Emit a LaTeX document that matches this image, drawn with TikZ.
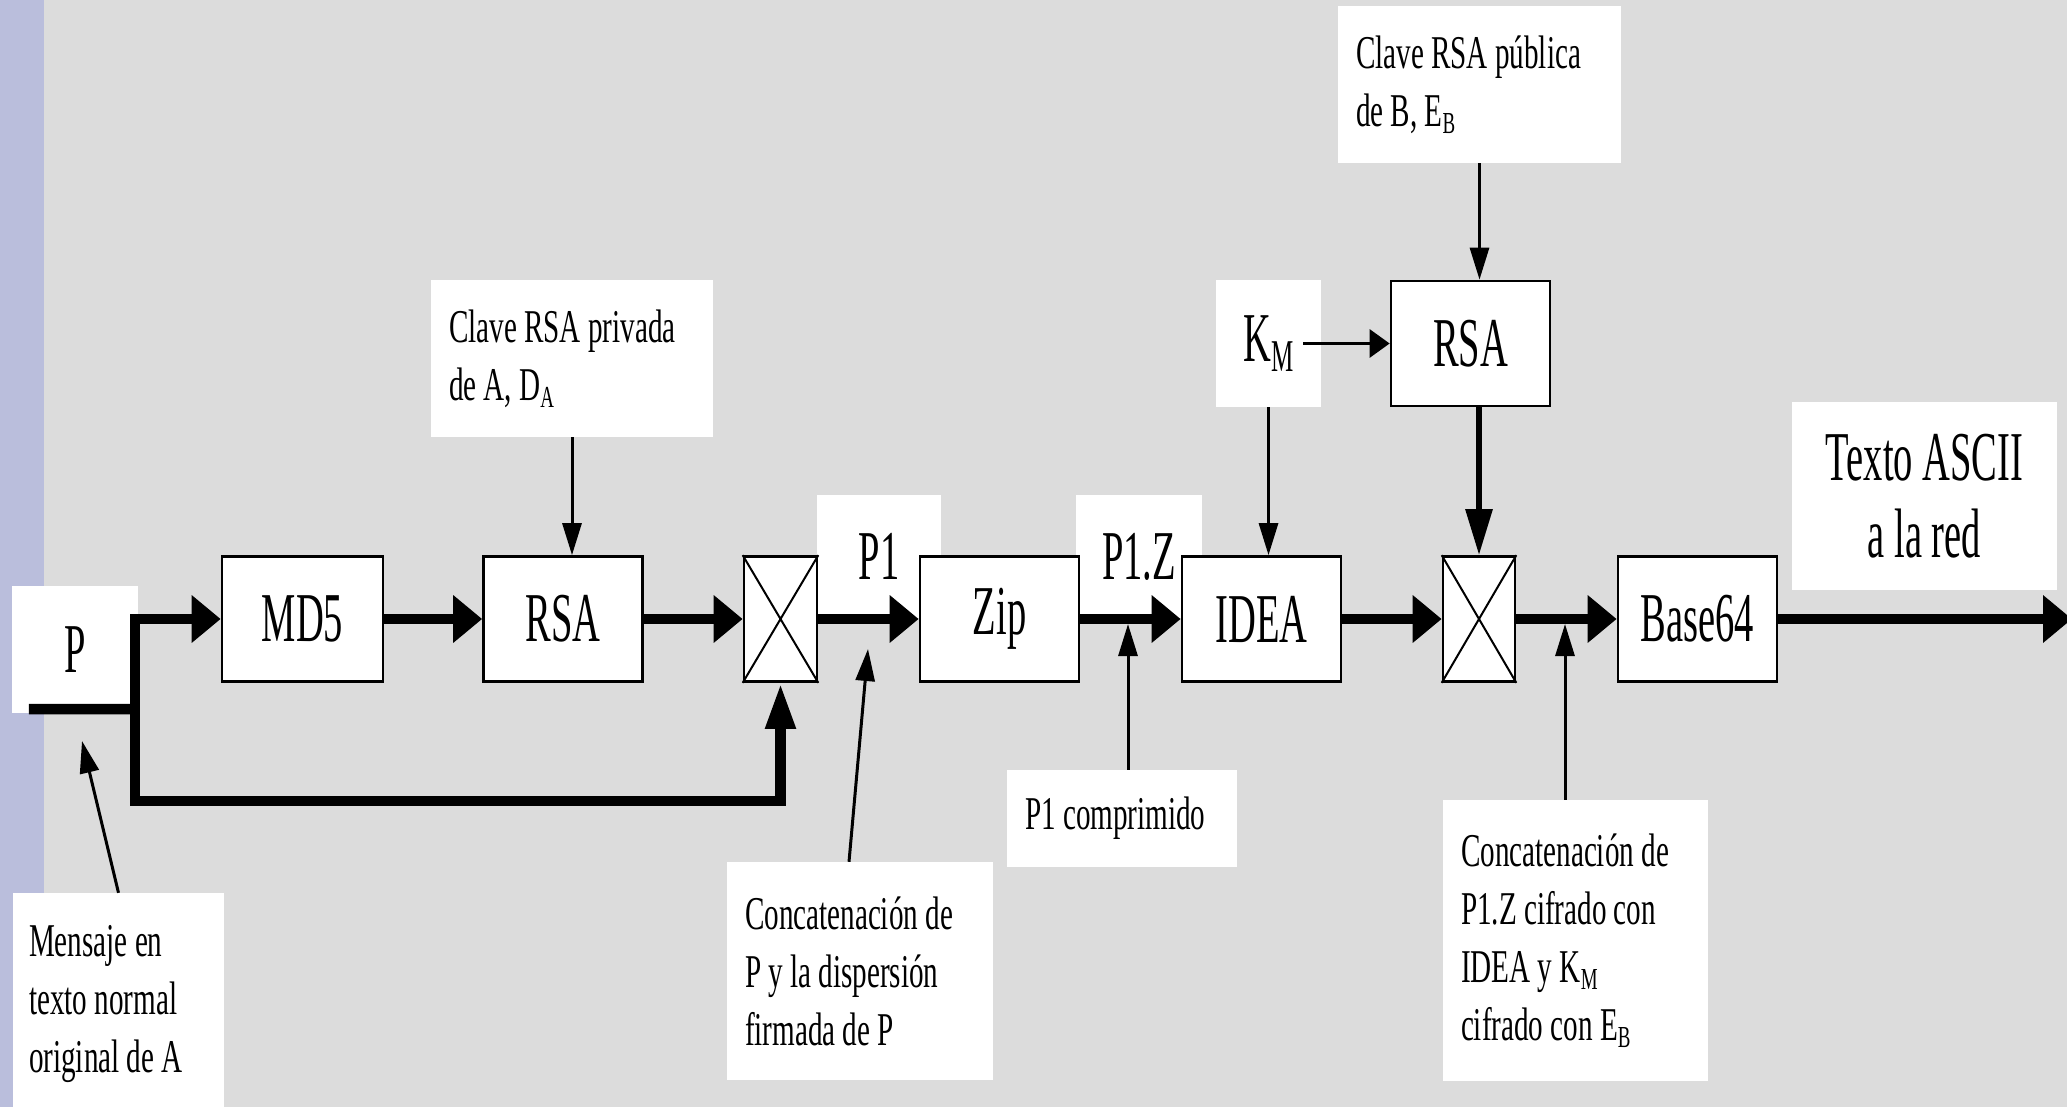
\documentclass[tikz,border=0pt]{standalone}
\usepackage{graphicx,xcolor}
\usepackage{fontspec}
\setmainfont{Liberation Serif}[FakeStretch=0.62]
\newfontfamily\boxserif{Liberation Serif}[FakeStretch=0.55]
\usepackage{tikz}
\usetikzlibrary{arrows.meta}
\usetikzlibrary{positioning}
\usetikzlibrary{calc}
\definecolor{slidegray}{RGB}{220,220,220}
\definecolor{slideblue}{RGB}{186,190,220}
\newcommand{\lowidx}[1]{\raisebox{-0.15em}{\scalebox{0.65}{#1}}}
\newcommand{\bigfont}{\boxserif\fontsize{70}{77}\selectfont}
\newcommand{\smallfont}{\fontsize{47}{58}\selectfont}
\tikzset{
    block/.style={draw=black, fill=white, line width=2.7pt, minimum width=159pt,
        minimum height=125pt, inner sep=0pt, font=\bigfont},
    mixer/.style={draw=black, fill=white, line width=2.7pt, minimum width=73pt,
        minimum height=125pt, inner sep=0pt},
    tag/.style={fill=white, inner sep=0pt, align=center, font=\bigfont},
    note/.style={fill=white, inner xsep=18pt, inner ysep=0pt, align=left, font=\smallfont,
        execute at begin node={\spaceskip=0pt\xspaceskip=0pt}},
    flow/.style={line width=10.5pt, -{Triangle[length=29pt,width=46pt]}},
    flowup/.style={line width=10.5pt, -{Triangle[length=46pt,width=28pt]}},
    flowline/.style={line width=10.5pt},
    keyflow/.style={line width=6pt, -{Triangle[length=46pt,width=26pt]}},
    pointer/.style={line width=3pt, -{Triangle[length=32pt,width=19pt]}},
}
\tikzstyle{crossline} = [draw, line width=2pt]

\begin{document}
\begin{tikzpicture}[x=1pt, y=-1pt, keyin/.style={line width=3pt,-{Triangle[length=20pt,width=28pt]}}]
	\useasboundingbox (0,0) rectangle (2067,1107);
	\fill[slidegray] (0,0) rectangle (2067,1107);
	\fill[slideblue] (0,0) rectangle (44,1107);
	% white labels behind the blocks
	\node[tag, minimum width=124pt, minimum height=123pt] (P1) at (879,556.5) {P1};
	\node[tag, minimum width=126pt, minimum height=123pt] (P1Z) at (1139,556.5) {P1.Z};
	\node[tag, minimum width=265pt, minimum height=188pt] (texto) at (1924.5,496) {Texto ASCII\\a la red};
	\node[tag, minimum width=126pt, minimum height=127pt] (P) at (75,649.5) {P};
	\node[tag, minimum width=105pt, minimum height=127pt] (KM) at (1268.5,343.5) {K\lowidx{M}};
	% blocks
	\node[block, minimum width=161pt] (MD5) at (302.5,619) {MD5};
	\node[block] (RSA1) at (563,619) {RSA};
	\node[mixer] (cat1) at (780.5,619) {};
	\node[block] (Zip) at (999.5,619) {Zip};
	\node[block] (IDEA) at (1261.5,619) {IDEA};
	\node[mixer, minimum width=72pt] (cat2) at (1479,619) {};
	\node[block] (Base64) at (1697.5,619) {Base64};
	\node[block] (RSA2) at (1470.5,343.5) {RSA};
	\path[crossline] (cat1.north west)--(cat1.south east) (cat1.north east)--(cat1.south west);
	\path[crossline] (cat2.north west)--(cat2.south east) (cat2.north east)--(cat2.south west);
	% notes
	\node[note, text width=246pt, minimum height=157pt] (priv) at (572,358.5) {Clave RSA privada\\de A, D\lowidx{A}};
	\node[note, text width=247pt, minimum height=157pt] (pub) at (1479.5,84.5) {Clave RSA pública\\de B, E\lowidx{B}};
	\node[note, text width=194pt, minimum height=97pt] (comp) at (1122,818.5) {P1 comprimido};
	\node[note, inner xsep=16pt, text width=179pt, minimum height=222pt] (msg) at (118.5,1004) {Mensaje en\\texto normal\\original de A};
	\node[note, text width=230pt, minimum height=218pt] (catnote1) at (860,971) {Concatenación de\\P y la dispersión\\firmada de P};
	\node[note, text width=229pt, minimum height=281pt] (catnote2) at (1575.5,940.5) {Concatenación de\\P1.Z cifrado con\\IDEA y K\lowidx{M}\\cifrado con E\lowidx{B}};
	% main flow
	\coordinate (split) at (135,709);
	\coordinate (bottomrun) at (135,801);
	\coordinate (net) at (2072,619);
	\draw[flowline] ([xshift=17pt,yshift=4pt]P.south west)--(split);
	\draw[flow] (split) |- (MD5.west);
	\draw[flowup] (split)--(bottomrun) -| (cat1.south);
	\draw[flow] (MD5.east)--(RSA1.west);
	\draw[flow] (RSA1.east)--(cat1.west);
	\draw[flow] (cat1.east)--(Zip.west);
	\draw[flow] (Zip.east)--(IDEA.west);
	\draw[flow] (IDEA.east)--(cat2.west);
	\draw[flow] (cat2.east)--(Base64.west);
	\draw[flow] (Base64.east)--(net);
	% keys
	\draw[pointer] (priv.south)--(priv.south |- RSA1.north);
	\draw[pointer] (pub.south)--(pub.south |- RSA2.north);
	\draw[pointer] (KM.south)--(KM.south |- IDEA.north);
	\draw[keyin] ([xshift=-18pt]KM.east)--(RSA2.west);
	\draw[keyflow] (cat2.north |- RSA2.south)--(cat2.north);
	% pointers from the notes
	\coordinate (msgtip) at (82,741);
	\coordinate (cattip) at (868,649);
	\coordinate (ziptap) at (1128,624);
	\coordinate (basetap) at (1565,624);
	\draw[pointer] (msg.north)--(msgtip);
	\draw[pointer] ([xshift=-11pt]catnote1.north)--(cattip);
	\draw[pointer] ([xshift=6pt]comp.north)--(ziptap);
	\draw[pointer] ([xshift=-10.5pt]catnote2.north)--(basetap);
\end{tikzpicture}
\end{document}
